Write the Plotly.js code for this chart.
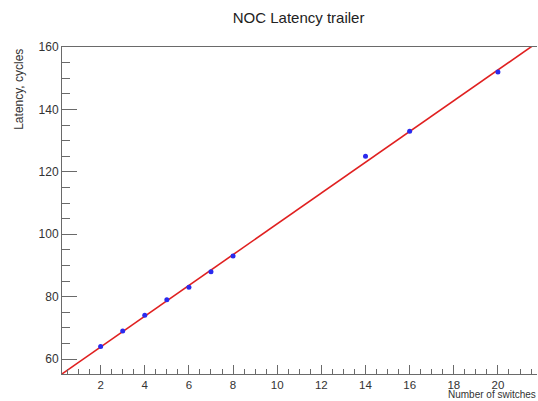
<!DOCTYPE html>
<html>
<head>
<meta charset="utf-8">
<script src="https://cdn.plot.ly/plotly-3.0.1.min.js"></script>
<style>html,body{margin:0;padding:0;background:#fff;}#chart{width:538px;height:401px;}</style>
</head>
<body>
<div id="chart"></div>
<script>
// Measured points
const switches = [2, 3, 4, 5, 6, 7, 8, 14, 16, 20];
const latency = [64, 69, 74, 79, 83, 88, 93, 125, 133, 152];
// Linear fit line (endpoints)
const fitX = [0, 22];
const fitY = [54, 162.5];
const xTickVals = [2, 4, 6, 8, 10, 12, 14, 16, 18, 20];
const yTickVals = [60, 80, 100, 120, 140, 160];

const font = 'Liberation Sans, Arial, sans-serif';
const axisColor = '#6a6a6a';
const textColor = '#333333';

const traces = [
  {
    x: fitX, y: fitY, type: 'scatter', mode: 'lines',
    line: {color: '#e02020', width: 1.6}, hoverinfo: 'skip', showlegend: false
  },
  {
    x: switches, y: latency, type: 'scatter', mode: 'markers',
    marker: {color: '#2a2aee', size: 5, symbol: 'circle'}, showlegend: false
  }
];

const layout = {
  width: 538, height: 401,
  margin: {l: 62, r: 1, t: 47, b: 27, pad: 0},
  paper_bgcolor: '#ffffff', plot_bgcolor: '#ffffff',
  font: {family: font, color: textColor, size: 12},
  title: {text: 'NOC Latency trailer', font: {family: font, size: 15, color: '#222'}, x: 0.555, xanchor: 'center', y: 0.955, yanchor: 'middle'},
  xaxis: {
    range: [0.25, 21.77], showgrid: false, zeroline: false,
    showline: true, linecolor: axisColor, linewidth: 1, mirror: true,
    ticks: 'inside', ticklen: 9, tickcolor: axisColor, tickwidth: 1,
    tickvals: xTickVals, ticktext: xTickVals.map(String),
    tickfont: {size: 11.5, color: textColor, family: font},
    minor: {dtick: 0.5, tick0: 0, ticks: 'inside', ticklen: 5, tickcolor: axisColor, tickwidth: 1},
    fixedrange: true
  },
  yaxis: {
    range: [55.2, 160], showgrid: false, zeroline: false,
    showline: true, linecolor: axisColor, linewidth: 1,
    ticks: 'inside', ticklen: 15, tickcolor: axisColor, tickwidth: 1,
    tickvals: yTickVals, ticktext: yTickVals.map(String),
    tickfont: {size: 12, color: textColor, family: font},
    minor: {dtick: 5, tick0: 0, ticks: 'inside', ticklen: 8, tickcolor: axisColor, tickwidth: 1},
    fixedrange: true
  },
  annotations: [
    {text: 'Latency, cycles', xref: 'paper', yref: 'paper', x: -0.092, y: 1.0,
     xanchor: 'center', yanchor: 'top', textangle: -90, showarrow: false,
     font: {size: 12, color: textColor, family: font}},
    {text: 'Number of switches', xref: 'paper', yref: 'paper', x: 1.0, y: -0.0826,
     xanchor: 'right', yanchor: 'bottom', showarrow: false, borderpad: 0,
     font: {size: 10, color: textColor, family: font}}
  ]
};

Plotly.newPlot('chart', traces, layout, {staticPlot: true, displayModeBar: false});
</script>
</body>
</html>
